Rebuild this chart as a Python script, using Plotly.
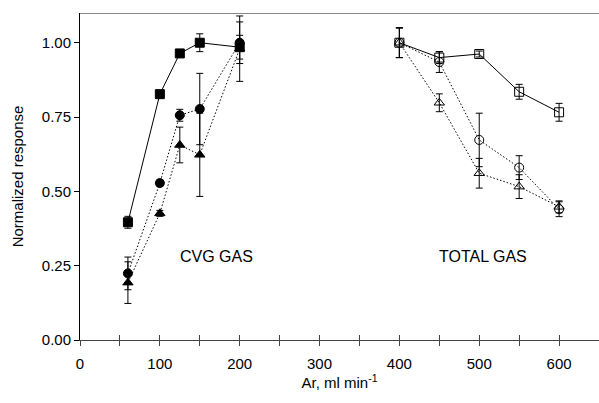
import plotly.graph_objects as go

# CVG GAS group
cvg_x = [60, 100, 125, 150, 200]
cvg_sq = [0.396, 0.827, 0.964, 1.000, 0.985]
cvg_sq_err = [0.02, 0.01, 0.01, 0.03, 0.04]
cvg_ci = [0.224, 0.528, 0.756, 0.777, 1.000]
cvg_ci_err = [0.055, 0.01, 0.02, 0.12, 0.07]
cvg_tr = [0.193, 0.426, 0.656, 0.623, 0.980]
cvg_tr_err = [0.07, 0.01, 0.06, 0.14, 0.11]

# TOTAL GAS group
tot_x = [400, 450, 500, 550, 600]
tot_sq = [1.000, 0.950, 0.962, 0.835, 0.766]
tot_sq_err = [0.05, 0.02, 0.01, 0.025, 0.03]
tot_ci = [1.000, 0.935, 0.673, 0.580, 0.440]
tot_ci_err = [0.05, 0.035, 0.09, 0.04, 0.025]
tot_tr = [1.000, 0.798, 0.561, 0.516, 0.448]
tot_tr_err = [0.05, 0.03, 0.05, 0.04, 0.02]

y_tickvals = [0, 0.25, 0.5, 0.75, 1.0]

FONT = "Liberation Sans, Arial, sans-serif"
DOT = "1.5px,2px"

fig = go.Figure()


def add_series(x, y, err, symbol, dash):
    fig.add_trace(go.Scatter(
        x=x, y=y, mode="lines+markers",
        line=dict(color="black", width=1, dash=dash),
        marker=dict(symbol=symbol, size=9, color="black",
                    line=dict(color="black", width=1)),
        error_y=dict(type="data", array=err, visible=True,
                     color="black", thickness=1, width=3.5),
        showlegend=False, cliponaxis=False,
    ))


add_series(cvg_x, cvg_tr, cvg_tr_err, "triangle-up", DOT)
add_series(cvg_x, cvg_ci, cvg_ci_err, "circle", DOT)
add_series(cvg_x, cvg_sq, cvg_sq_err, "square", "solid")
add_series(tot_x, tot_tr, tot_tr_err, "triangle-up-open", DOT)
add_series(tot_x, tot_ci, tot_ci_err, "circle-open", DOT)
add_series(tot_x, tot_sq, tot_sq_err, "square-open", "solid")

# dummy trace to activate the overlay axis for crossing ticks
fig.add_trace(go.Scatter(x=[None], y=[None], xaxis="x2", showlegend=False,
                         hoverinfo="skip"))

fig.add_annotation(x=171, y=0.28, text="CVG GAS", showarrow=False,
                   font=dict(family=FONT, size=16, color="black"))
fig.add_annotation(x=505, y=0.28, text="TOTAL GAS", showarrow=False,
                   font=dict(family=FONT, size=16, color="black"))

# gray top frame line
fig.add_shape(type="line", xref="paper", yref="y", x0=0, x1=1, y0=1.1, y1=1.1,
              line=dict(color="#888888", width=2))

fig.update_layout(
    width=599, height=403,
    margin=dict(l=80, r=0, t=13, b=63),
    paper_bgcolor="white", plot_bgcolor="white",
    font=dict(family=FONT, size=15, color="black"),
    xaxis=dict(
        range=[0, 650], showgrid=False, zeroline=False,
        showline=True, linecolor="#444444", linewidth=1,
        tick0=0, dtick=100,
        ticks="outside", ticklen=5, tickcolor="#444444", tickwidth=1,
        ticklabelstandoff=5,
        minor=dict(tick0=0, dtick=50, ticks="outside", ticklen=5,
                   tickcolor="#444444", tickwidth=1, showgrid=False),
        title=dict(text="Ar, ml min<sup>-1</sup>", standoff=4,
                   font=dict(size=15)),
    ),
    xaxis2=dict(
        range=[0, 650], overlaying="x", anchor="y", showgrid=False,
        zeroline=False, showline=False, tick0=0, dtick=50,
        showticklabels=False, ticks="inside", ticklen=5,
        tickcolor="#444444", tickwidth=1, side="bottom",
    ),
    yaxis=dict(
        range=[0, 1.1], showgrid=False, zeroline=False,
        showline=True, linecolor="black", linewidth=1,
        tickvals=y_tickvals, tickformat=".2f",
        ticks="outside", ticklen=5, tickcolor="black", tickwidth=1,
        title=dict(text="Normalized response", standoff=14,
                   font=dict(size=15)),
    ),
)

fig.write_html("out.html")
